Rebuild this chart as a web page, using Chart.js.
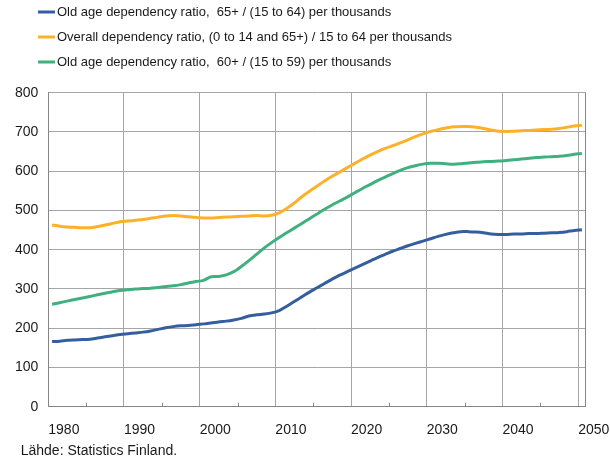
<!DOCTYPE html>
<html>
<head>
<meta charset="utf-8">
<script src="https://cdn.jsdelivr.net/npm/chart.js@4/dist/chart.umd.min.js"></script>
<style>
  html, body { margin: 0; padding: 0; background: #ffffff; }
  #wrap { position: relative; width: 610px; height: 463px; }
</style>
</head>
<body>
<div id="wrap"><canvas id="c"></canvas></div>
<script>
// ---- Data ----
const years = [];
for (let y = 1980; y <= 2050; y++) years.push(y);

const seriesLabels = [
  'Old age dependency ratio,  65+ / (15 to 64) per thousands',
  'Overall dependency ratio, (0 to 14 and 65+) / 15 to 64 per thousands',
  'Old age dependency ratio,  60+ / (15 to 59) per thousands'
];

const oldAge65 = [
  166,167,169,170,171,172,175,178,181,184,
  186,188,190,193,197,201,204,206,207,209,
  211,213,216,218,221,225,231,234,236,239,
  245,256,268,280,292,303,314,325,335,344,
  353,362,371,380,388,396,403,410,416,422,
  428,434,439,443,446,446,445,443,440,439,
  439,440,440,441,441,442,443,444,446,449,
  451
];

const overall = [
  463,460,458,457,456,456,459,463,467,471,
  473,475,477,480,483,486,487,486,484,482,
  481,481,482,483,484,485,486,487,486,488,
  494,505,519,535,549,562,575,587,598,609,
  620,631,641,650,658,665,672,680,688,695,
  701,706,710,713,714,714,712,709,705,702,
  701,702,703,704,705,706,707,709,712,715,
  717
];

const oldAge60 = [
  261,265,269,273,277,281,285,289,293,296,
  298,300,301,302,304,306,308,311,315,319,
  322,331,332,336,344,357,372,388,404,418,
  431,443,455,467,479,491,503,514,524,534,
  545,556,566,576,585,594,602,609,614,618,
  620,620,619,618,619,621,623,624,625,626,
  627,629,631,633,635,636,637,638,640,643,
  645
];

const xTickLabels = ['1980','1990','2000','2010','2020','2030','2040','2050'];
const yTickValues = [0,100,200,300,400,500,600,700,800];
const sourceText = 'Lähde: Statistics Finland.';

// ---- Styling ----
const colors = ['#355e9e', '#fdb12b', '#3fb07e'];
const FONT = '"Liberation Sans", Arial, sans-serif';
const GRID = '#a6a6a6';
const BORDER = '#858585';

function toPoints(arr) { return arr.map((v, i) => ({ x: years[i], y: v })); }

// x ticks every 5 years at category boundaries (major every 10)
const xTickValues = [];
for (let v = 1979.5; v <= 2049.5; v += 5) xTickValues.push(v);
function isMajor(v) { return Math.round(v - 1979.5) % 10 === 0; }
function labelFor(v) {
  const idx = Math.round((v - 1979.5) / 10);
  return isMajor(v) ? xTickLabels[idx] : '';
}

const framePlugin = {
  id: 'frame',
  afterLayout(chart) {
    // place the legend and the source note like the reference
    chart.legend.top -= 14.2;
    chart.legend.left += 30.5;
    if (chart.titleBlock) chart.titleBlock.left += 20.7;
  },
  beforeDatasetsDraw(chart) {
    const { ctx, chartArea, scales } = chart;
    ctx.save();
    // right border
    ctx.strokeStyle = BORDER;
    ctx.lineWidth = 1;
    const xr = Math.round(chartArea.right) - 0.5;
    ctx.beginPath();
    ctx.moveTo(xr, chartArea.top);
    ctx.lineTo(xr, chartArea.bottom);
    ctx.stroke();
    // minor tick marks inside the plot at the x axis
    ctx.strokeStyle = '#8a8a8a';
    scales.x.ticks.forEach(t => {
      if (!isMajor(t.value)) {
        const px = Math.round(scales.x.getPixelForValue(t.value)) + 0.5;
        ctx.beginPath();
        ctx.moveTo(px, chartArea.bottom);
        ctx.lineTo(px, chartArea.bottom - 4);
        ctx.stroke();
      }
    });
    ctx.restore();
  }
};

new Chart(document.getElementById('c'), {
  type: 'line',
  data: {
    datasets: [
      { label: seriesLabels[0], data: toPoints(oldAge65), borderColor: colors[0], backgroundColor: colors[0] },
      { label: seriesLabels[1], data: toPoints(overall), borderColor: colors[1], backgroundColor: colors[1] },
      { label: seriesLabels[2], data: toPoints(oldAge60), borderColor: colors[2], backgroundColor: colors[2] }
    ].map(d => Object.assign(d, { borderWidth: 3, pointRadius: 0, tension: 0.3, fill: false }))
  },
  options: {
    responsive: true,
    maintainAspectRatio: false,
    animation: false,
    layout: { padding: { left: 0, right: 24.3, top: 7.7, bottom: 0 } },
    plugins: {
      legend: {
        position: 'top',
        align: 'start',
        labels: {
          font: { family: FONT, size: 13 },
          color: '#1a1a1a',
          padding: 12,
          boxWidth: 8,
          boxHeight: 12,
          usePointStyle: true,
          pointStyle: 'line'
        }
      },
      title: {
        display: true,
        position: 'bottom',
        align: 'start',
        text: sourceText,
        color: '#1a1a1a',
        font: { family: FONT, size: 14, weight: 'normal', lineHeight: 1.2 },
        padding: { top: 0, bottom: 3.6 }
      },
      tooltip: { enabled: false }
    },
    scales: {
      x: {
        type: 'linear',
        min: 1979.5,
        max: 2050.5,
        afterBuildTicks(scale) { scale.ticks = xTickValues.map(v => ({ value: v })); },
        afterFit(scale) { scale.height = 35.9; scale.paddingLeft = 0; scale.paddingRight = 0; },
        ticks: {
          autoSkip: false,
          maxRotation: 0,
          align: 'start',
          padding: 15,
          color: '#1a1a1a',
          font: { family: FONT, size: 14 },
          callback: (v) => labelFor(v)
        },
        grid: {
          drawTicks: false,
          color: (ctx) => (ctx.tick && isMajor(ctx.tick.value)) ? GRID : 'rgba(0,0,0,0)',
          lineWidth: 1
        },
        border: { display: true, color: BORDER, width: 1 }
      },
      y: {
        min: 0,
        max: 800,
        afterBuildTicks(scale) { scale.ticks = yTickValues.map(v => ({ value: v })); },
        afterFit(scale) { scale.width = 48.3; },
        ticks: {
          padding: 10,
          color: '#1a1a1a',
          font: { family: FONT, size: 14 }
        },
        grid: { drawTicks: false, color: GRID, lineWidth: 1 },
        border: { display: true, color: BORDER, width: 1 }
      }
    }
  },
  plugins: [framePlugin]
});
</script>
</body>
</html>
